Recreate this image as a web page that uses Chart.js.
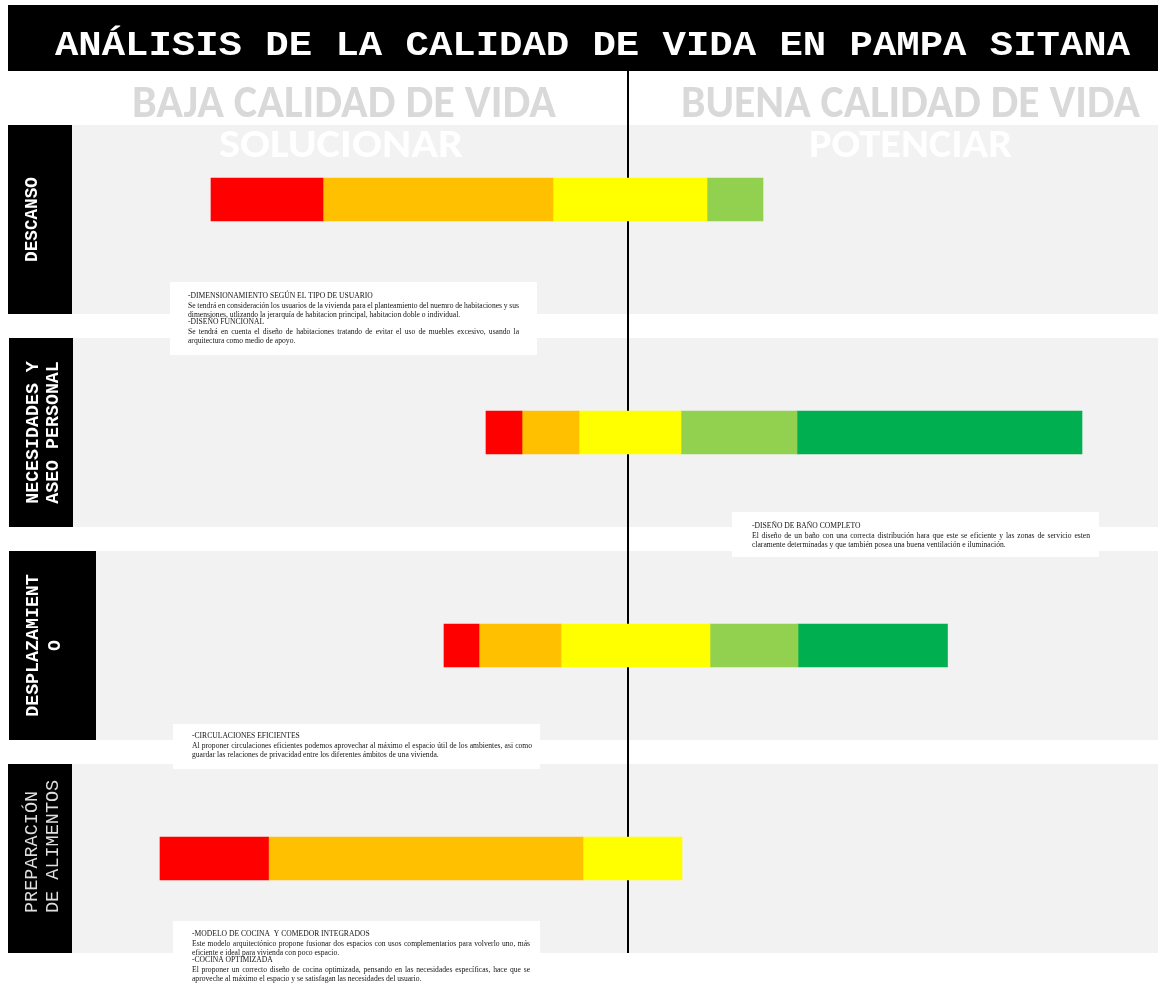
<!DOCTYPE html>
<html>
<head>
<meta charset="utf-8">
<script src="https://cdn.jsdelivr.net/npm/chart.js@4.4.1/dist/chart.umd.min.js"></script>
<style>
html, body { margin: 0; padding: 0; background: #ffffff; }
canvas { display: block; }
</style>
</head>
<body>
<canvas id="c" width="1158" height="984"></canvas>
<script>
// ---------------- DATA ----------------
const title = 'ANÁLISIS DE LA CALIDAD DE VIDA EN PAMPA SITANA';
const leftHeader = ['BAJA CALIDAD DE VIDA', 'SOLUCIONAR'];
const rightHeader = ['BUENA CALIDAD DE VIDA', 'POTENCIAR'];
const categories = ['DESCANSO', 'NECESIDADES Y ASEO PERSONAL', 'DESPLAZAMIENTO', 'PREPARACIÓN DE ALIMENTOS'];
const categoryLines = [['DESCANSO'], ['NECESIDADES Y', 'ASEO PERSONAL'], ['DESPLAZAMIENT', 'O'], ['PREPARACIÓN', 'DE ALIMENTOS']];
const levelNames = ['Muy baja', 'Baja', 'Regular', 'Buena', 'Muy buena'];
// boundaries between the quality levels for each category (score axis, 0 = divide between baja / buena)
const descansoEdges = [-83.4, -61.0, -15.0, 15.8, 27.0];
const aseoEdges = [-28.4, -21.2, -9.8, 10.6, 33.8, 90.8];
const desplazamientoEdges = [-36.8, -29.8, -13.4, 16.4, 34.0, 63.9];
const alimentosEdges = [-93.6, -71.9, -9.0, 10.8];
const scoreMin = -125.6;
const scoreMax = 106.0;
const notes = [
  [
    { heading: '-DIMENSIONAMIENTO SEGÚN EL TIPO DE USUARIO', body: ['Se tendrá en consideración los usuarios de la vivienda para el planteamiento del nuemro de habitaciones y sus', 'dimensiones, utlizando la jerarquía de habitacion principal, habitacion doble o individual.'] },
    { heading: '-DISEÑO FUNCIONAL', body: ['Se tendrá en cuenta el diseño de habitaciones tratando de evitar el uso de muebles excesivo, usando la', 'arquitectura como medio de apoyo.'] }
  ],
  [
    { heading: '-DISEÑO DE BAÑO COMPLETO', body: ['El diseño de un baño con una correcta distribución hara que este se eficiente y las zonas de servicio esten', 'claramente determinadas y que también posea una buena ventilación e iluminación.'] }
  ],
  [
    { heading: '-CIRCULACIONES EFICIENTES', body: ['Al proponer circulaciones eficientes podemos aprovechar al máximo el espacio útil de los ambientes, asi como', 'guardar las relaciones de privacidad entre los diferentes ámbitos de una vivienda.'] }
  ],
  [
    { heading: '-MODELO DE COCINA  Y COMEDOR INTEGRADOS', body: ['Este modelo arquitectónico propone fusionar dos espacios con usos complementarios para volverlo uno, más', 'eficiente e ideal para vivienda con poco espacio.'] },
    { heading: '-COCINA OPTIMIZADA', body: ['El proponer un correcto diseño de cocina optimizada, pensando en las necesidades específicas, hace que se', 'aproveche al máximo el espacio y se satisfagan las necesidades del usuario.'] }
  ]
];

// ---------------- STYLE / LAYOUT ----------------
const levelColors = ['#ff0000', '#ffc000', '#ffff00', '#92d050', '#00b050'];
const MONO = "'Liberation Mono', 'DejaVu Sans Mono', monospace";
const SERIF = "'Liberation Serif', 'DejaVu Serif', serif";
const HEAD = "Carlito, 'Open Sans', 'Noto Sans', sans-serif";
const BAND_LEFT = 72;
const BAND_HALF = 94.5;
const rowNudge = [-20, 0, 0, 0];
const labelStyles = [
  { boxL: 8, boxR: 72, x0: 31, dx: 21, weight: 'bold', size: 17.7, color: '#ffffff' },
  { boxL: 9, boxR: 73, x0: 32, dx: 20, weight: 'bold', size: 18.3, color: '#ffffff' },
  { boxL: 9, boxR: 96, x0: 32, dx: 22, weight: 'bold', size: 18.3, color: '#ffffff' },
  { boxL: 8, boxR: 72, x0: 31, dx: 21, weight: 'normal', size: 18.5, color: '#dedede', start: 54.5 }
];
const noteBoxes = [
  { x: 170, y: 282, w: 367, h: 73, tx: 188, tw: 331, b: 298 },
  { x: 732, y: 512, w: 367, h: 45, tx: 752, tw: 338, b: 528 },
  { x: 173, y: 724, w: 367, h: 45, tx: 192, tw: 340, b: 738 },
  { x: 173, y: 921, w: 367, h: 63, tx: 192, tw: 338, b: 936 }
];

const allEdges = [descansoEdges, aseoEdges, desplazamientoEdges, alimentosEdges];
const datasets = levelNames.map((name, j) => ({
  label: name,
  data: allEdges.map(e => (e.length > j + 1 ? [e[j], e[j + 1]] : null)),
  backgroundColor: levelColors[j],
  borderWidth: 0,
  barThickness: 43,
  grouped: false
}));

// ---------------- HELPERS ----------------
function capText(ctx, text, x0, x1, capTop, capBottom, weight, family, color) {
  ctx.save();
  ctx.font = weight + ' 100px ' + family;
  const capRatio = ctx.measureText('H').actualBoundingBoxAscent / 100;
  const size = (capBottom - capTop) / capRatio;
  ctx.font = weight + ' ' + size + 'px ' + family;
  const w = ctx.measureText(text).width;
  ctx.translate((x0 + x1) / 2, capBottom);
  ctx.scale((x1 - x0) / w, 1);
  ctx.textAlign = 'center';
  ctx.textBaseline = 'alphabetic';
  ctx.fillStyle = color;
  ctx.fillText(text, 0, 0);
  ctx.restore();
}

function rotatedLabel(ctx, lines, cy, st) {
  ctx.save();
  ctx.font = st.weight + ' ' + st.size + 'px ' + MONO;
  const cap = ctx.measureText('H').actualBoundingBoxAscent;
  ctx.fillStyle = st.color;
  ctx.textBaseline = 'alphabetic';
  lines.forEach((ln, k) => {
    ctx.save();
    ctx.translate(st.x0 + st.dx * k, cy);
    ctx.rotate(-Math.PI / 2);
    if (st.start != null) { ctx.textAlign = 'left'; ctx.fillText(ln, -st.start, cap / 2); }
    else { ctx.textAlign = 'center'; ctx.fillText(ln, 0, cap / 2); }
    ctx.restore();
  });
  ctx.restore();
}

function justified(ctx, line, x, y, width) {
  const words = line.split(/\s+/);
  const widths = words.map(w => ctx.measureText(w).width);
  const total = widths.reduce((a, b) => a + b, 0);
  const gap = (width - total) / (words.length - 1);
  let cx = x;
  words.forEach((w, i) => { ctx.fillText(w, cx, y); cx += widths[i] + gap; });
}

// ---------------- PLUGIN ----------------
const layoutPlugin = {
  id: 'layoutPlugin',
  afterDatasetsUpdate(chart) {
    chart.data.datasets.forEach((ds, i) => {
      const meta = chart.getDatasetMeta(i);
      meta.data.forEach((el, k) => { el.y += rowNudge[k] || 0; });
    });
  },
  beforeDatasetsDraw(chart) {
    const ctx = chart.ctx;
    const ys = chart.scales.y, xs = chart.scales.x;
    const right = chart.chartArea.right;
    ctx.save();
    // title bar
    ctx.fillStyle = '#000000';
    ctx.fillRect(8, 5, 1150, 66);
    capText(ctx, title, 55, 1130, 31, 55, 'bold', MONO, '#ffffff');
    // bands
    categories.forEach((c, i) => {
      const cy = ys.getPixelForValue(i);
      ctx.fillStyle = '#f2f2f2';
      ctx.fillRect(BAND_LEFT, cy - BAND_HALF, right - BAND_LEFT, BAND_HALF * 2);
    });
    // headers
    capText(ctx, leftHeader[0], 132, 556, 87, 117, 'bold', HEAD, '#d9d9d9');
    capText(ctx, rightHeader[0], 681, 1140, 87, 117, 'bold', HEAD, '#d9d9d9');
    capText(ctx, leftHeader[1], 219, 463, 131, 157, 'bold', HEAD, '#ffffff');
    capText(ctx, rightHeader[1], 809, 1012, 131, 157, 'bold', HEAD, '#ffffff');
    // centre divide line
    const lx = xs.getPixelForValue(0);
    const bottom = ys.getPixelForValue(categories.length - 1) + BAND_HALF;
    ctx.fillStyle = '#000000';
    ctx.fillRect(lx - 1, 71, 2, bottom - 71);
    // category label boxes
    categories.forEach((c, i) => {
      const cy = ys.getPixelForValue(i);
      const st = labelStyles[i];
      ctx.fillStyle = '#000000';
      ctx.fillRect(st.boxL, cy - BAND_HALF, st.boxR - st.boxL, BAND_HALF * 2);
      rotatedLabel(ctx, categoryLines[i], cy, st);
    });
    ctx.restore();
  },
  afterDatasetsDraw(chart) {
    const ctx = chart.ctx;
    ctx.save();
    notes.forEach((note, i) => {
      const bx = noteBoxes[i];
      ctx.fillStyle = '#ffffff';
      ctx.fillRect(bx.x, bx.y, bx.w, bx.h);
      ctx.fillStyle = '#141414';
      ctx.font = '7.6px ' + SERIF;
      ctx.textAlign = 'left';
      ctx.textBaseline = 'alphabetic';
      let y = bx.b;
      note.forEach((para, p) => {
        if (p > 0) y += 7;
        ctx.fillText(para.heading, bx.tx, y);
        y += 10;
        para.body.forEach((ln, k) => {
          if (k > 0) y += 9;
          if (k < para.body.length - 1) justified(ctx, ln, bx.tx, y, bx.tw);
          else ctx.fillText(ln, bx.tx, y);
        });
      });
    });
    ctx.restore();
  }
};

// ---------------- CHART ----------------
new Chart(document.getElementById('c'), {
  type: 'bar',
  data: { labels: categories, datasets: datasets },
  options: {
    indexAxis: 'y',
    responsive: false,
    animation: false,
    devicePixelRatio: 1,
    layout: { padding: { top: 113, bottom: 19, left: 0, right: 0 } },
    scales: {
      x: { type: 'linear', min: scoreMin, max: scoreMax, display: false },
      y: { type: 'category', display: false }
    },
    plugins: { legend: { display: false }, tooltip: { enabled: false }, title: { display: false } }
  },
  plugins: [layoutPlugin]
});
</script>
</body>
</html>
